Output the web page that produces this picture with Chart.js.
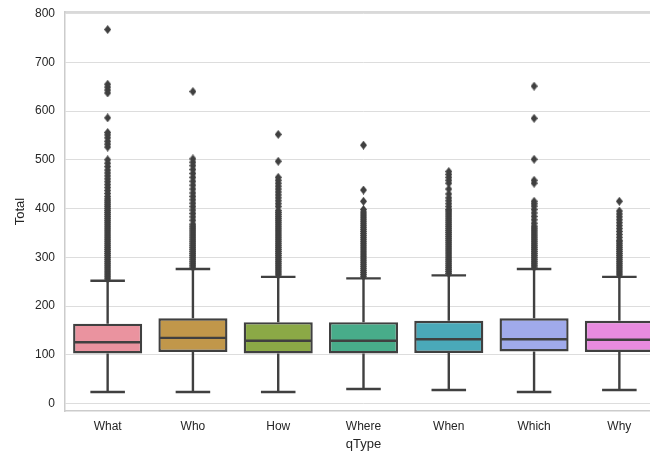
<!DOCTYPE html>
<html>
<head>
<meta charset="utf-8">
<script src="https://cdn.jsdelivr.net/npm/chart.js@4"></script>
<style>
  html, body { margin: 0; padding: 0; background: #ffffff; overflow: hidden; width: 650px; height: 454px; }
  #wrap { width: 666px; height: 454px; }
</style>
</head>
<body>
<div id="wrap"><canvas id="c" width="666" height="454"></canvas></div>
<script>
// Question types on the x axis
const categories = ['What', 'Who', 'How', 'Where', 'When', 'Which', 'Why'];

// Box statistics of "Total" per question type
const q1         = [103, 106, 103, 103, 104, 107, 106];
const median     = [126, 135, 129, 129, 132, 132, 131];
const q3         = [164, 175, 167, 167, 170, 175, 170];
const whiskerLow = [24, 24, 24, 30, 28, 24, 28];
const whiskerHigh = [252, 276, 260, 257, 263, 276, 260];

// Outliers above the upper whisker
const fliersWhat = [256, 260, 264, 268, 272, 276, 280, 284, 288, 292, 296, 300, 304, 308, 312, 316, 320, 324, 328, 332,
  336, 340, 344, 348, 352, 356, 360, 364, 368, 372, 376, 380, 384, 388, 392, 396, 400, 404, 408, 412, 416, 420,
  425, 431, 437, 443, 449, 455, 461, 467, 473, 479, 486, 493, 500,
  526, 532, 538, 545, 551, 556, 586, 637, 643, 649, 655, 767];
const fliersWho = [280, 284, 288, 292, 296, 300, 304, 308, 312, 316, 320, 324, 328, 332, 336, 340, 344, 348, 352, 356,
  360, 364, 368, 376, 383, 390, 397, 404, 411, 418, 425, 432, 440, 448, 456, 464, 472, 480, 488, 495, 502, 640];
const fliersHow = [264, 268, 272, 276, 280, 284, 288, 292, 296, 300, 304, 308, 312, 316, 320, 324, 328, 332, 336, 340,
  344, 348, 352, 356, 360, 364, 368, 372, 376, 380, 384, 388, 392, 396, 404, 410, 416, 422, 428, 434, 440, 446,
  452, 458, 464, 497, 552];
const fliersWhere = [261, 265, 269, 273, 277, 281, 285, 289, 293, 297, 301, 305, 309, 313, 317, 321, 325, 329, 333,
  337, 341, 345, 349, 353, 357, 361, 365, 369, 373, 377, 381, 385, 389, 393, 398, 415, 438, 530];
const fliersWhen = [267, 271, 275, 279, 283, 287, 291, 295, 299, 303, 307, 311, 315, 319, 323, 327, 331, 335, 339, 343,
  347, 351, 355, 359, 363, 367, 371, 375, 379, 383, 387, 391, 395, 398, 404, 410, 416, 422, 430, 440, 452, 458,
  464, 470, 476];
const fliersWhich = [280, 284, 288, 292, 296, 300, 304, 308, 312, 316, 320, 324, 328, 332, 336, 340, 344, 348, 352,
  356, 360, 364, 370, 377, 384, 391, 398, 405, 410, 415, 452, 458, 501, 585, 651];
const fliersWhy = [264, 268, 272, 276, 280, 284, 288, 292, 296, 300, 304, 308, 312, 316, 320, 324, 328, 332, 335,
  341, 347, 353, 359, 365, 371, 377, 383, 389, 395, 415];

// y axis tick labels
const yTickValues = [0, 100, 200, 300, 400, 500, 600, 700, 800];

const boxColors = ['#ea939f', '#c1974a', '#8ba946', '#48ac8a', '#4aa9b9', '#a0aaeb', '#e88bdf'];
const edgeColor = '#404040';
const spineColor = '#cccccc';
const gridColor = '#dddddd';
const fontFamily = "'Liberation Sans', Arial, sans-serif";
const textColor = '#262626';

const flierLists = [fliersWhat, fliersWho, fliersHow, fliersWhere, fliersWhen, fliersWhich, fliersWhy];
const flierPoints = [];
flierLists.forEach((list, i) => list.forEach(v => flierPoints.push({ x: categories[i], y: v })));

// thin diamond marker for the outliers
function thinDiamond(w, h, color) {
  const c = document.createElement('canvas');
  c.width = w; c.height = h;
  const g = c.getContext('2d');
  g.fillStyle = color;
  g.beginPath();
  g.moveTo(w / 2, 0);
  g.lineTo(w, h / 2);
  g.lineTo(w / 2, h);
  g.lineTo(0, h / 2);
  g.closePath();
  g.fill();
  return c;
}
const diamond = thinDiamond(7, 9, edgeColor);

// whiskers, caps and median lines drawn on top of the boxes
const boxPlotLines = {
  id: 'boxPlotLines',
  afterDatasetsDraw(chart) {
    const { ctx } = chart;
    const y = chart.scales.y;
    const meta = chart.getDatasetMeta(0);
    ctx.save();
    ctx.strokeStyle = edgeColor;
    ctx.lineWidth = 2.4;
    meta.data.forEach((bar, i) => {
      const cx = bar.x;
      const half = bar.width / 2;
      const capHalf = bar.width / 4;
      const yq1 = y.getPixelForValue(q1[i]);
      const yq3 = y.getPixelForValue(q3[i]);
      const ymed = y.getPixelForValue(median[i]);
      const ylo = y.getPixelForValue(whiskerLow[i]);
      const yhi = y.getPixelForValue(whiskerHigh[i]);
      ctx.beginPath();
      ctx.moveTo(cx, yq3); ctx.lineTo(cx, yhi);
      ctx.moveTo(cx, yq1); ctx.lineTo(cx, ylo);
      ctx.moveTo(cx - capHalf, yhi); ctx.lineTo(cx + capHalf, yhi);
      ctx.moveTo(cx - capHalf, ylo); ctx.lineTo(cx + capHalf, ylo);
      ctx.moveTo(cx - half + 1, ymed); ctx.lineTo(cx + half - 1, ymed);
      ctx.stroke();
    });
    ctx.restore();
  },
  afterDraw(chart) {
    // top spine
    const { ctx, chartArea } = chart;
    ctx.save();
    ctx.strokeStyle = spineColor;
    ctx.lineWidth = 1.5;
    ctx.beginPath();
    ctx.moveTo(chartArea.left, chartArea.top);
    ctx.lineTo(chartArea.right, chartArea.top);
    ctx.stroke();
    ctx.restore();
  }
};

new Chart(document.getElementById('c'), {
  data: {
    labels: categories,
    datasets: [
      {
        type: 'bar',
        data: categories.map((c, i) => [q1[i], q3[i]]),
        backgroundColor: boxColors,
        borderColor: edgeColor,
        borderWidth: 2.4,
        borderSkipped: false,
        barPercentage: 0.81,
        categoryPercentage: 1.0,
        order: 1
      },
      {
        type: 'line',
        data: flierPoints,
        showLine: false,
        pointStyle: diamond,
        pointRadius: 3,
        pointHoverRadius: 3,
        order: 2
      }
    ]
  },
  options: {
    responsive: false,
    animation: false,
    devicePixelRatio: 1,
    layout: { padding: { top: 12, right: 4, left: 0, bottom: 0 } },
    plugins: { legend: { display: false }, tooltip: { enabled: false } },
    scales: {
      x: {
        type: 'category',
        offset: true,
        grid: { display: false, drawTicks: false, tickLength: 0 },
        border: { display: true, color: spineColor, width: 1.5 },
        ticks: { color: textColor, font: { family: fontFamily, size: 12 }, padding: 8 },
        title: { display: true, text: 'qType', color: textColor, font: { family: fontFamily, size: 13 }, padding: { top: 0, bottom: 2 } },
        afterFit(scale) { scale.height = 43; scale.paddingLeft = 0; scale.paddingRight = 0; }
      },
      y: {
        type: 'linear',
        min: -15,
        max: 803,
        afterBuildTicks(scale) { scale.ticks = yTickValues.map(v => ({ value: v })); },
        grid: { color: gridColor, lineWidth: 1, drawTicks: false, tickLength: 0 },
        border: { display: true, color: spineColor, width: 1.5 },
        ticks: { color: textColor, font: { family: fontFamily, size: 12 }, padding: 10 },
        title: { display: true, text: 'Total', color: textColor, font: { family: fontFamily, size: 13 }, padding: { top: 13, bottom: 0 } },
        afterFit(scale) { scale.width = 65; scale.paddingTop = 0; scale.paddingBottom = 0; }
      }
    }
  },
  plugins: [boxPlotLines]
});
</script>
</body>
</html>
